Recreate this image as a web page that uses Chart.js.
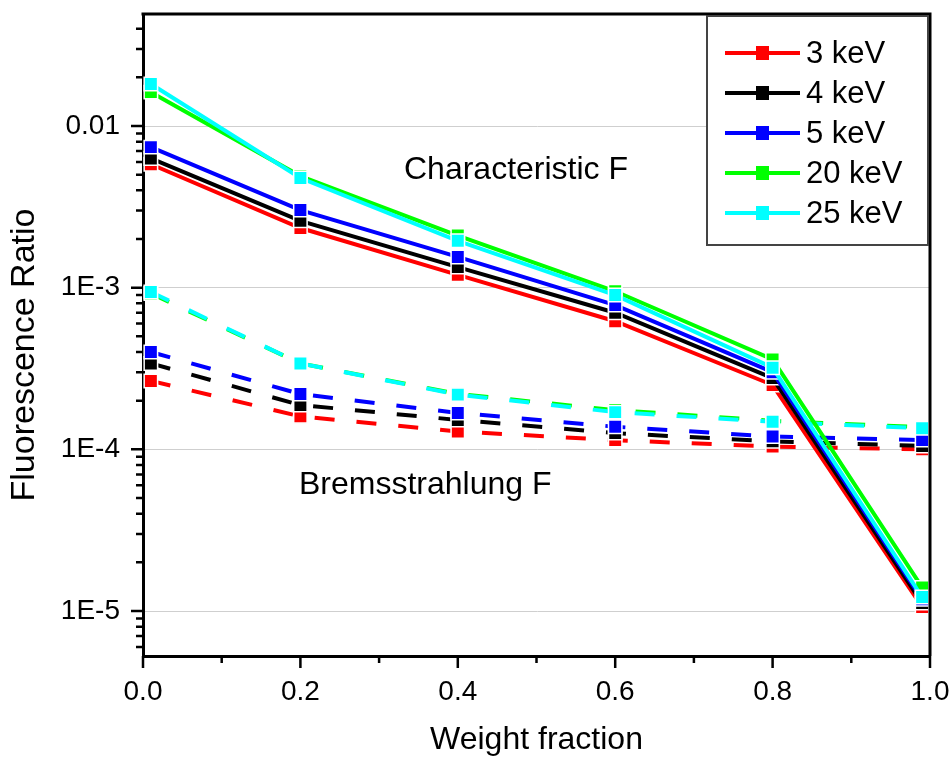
<!DOCTYPE html>
<html>
<head>
<meta charset="utf-8">
<script src="https://cdn.jsdelivr.net/npm/chart.js@4.4.1/dist/chart.umd.min.js"></script>
<style>
	html, body { margin: 0; padding: 0; background: #fff; }
	#wrap { width: 949px; height: 760px; }
</style>
</head>
<body>
<div id="wrap"><canvas id="fluoChart" width="949" height="760"></canvas></div>
<script>
var weightFraction = [0.01, 0.2, 0.4, 0.6, 0.8, 0.99];
var energyLabels = ['3 keV', '4 keV', '5 keV', '20 keV', '25 keV'];
var seriesColors = ['#ff0000', '#000000', '#0000ff', '#00ff00', '#00ffff'];

// Characteristic F (solid lines)
var char3 = [0.0058, 0.00234, 0.0012, 0.00062, 0.00025, 1.06e-5];
var char4 = [0.0063, 0.00259, 0.00134, 0.0007, 0.000276, 1.12e-5];
var char5 = [0.0074, 0.00302, 0.00155, 0.00078, 0.0003, 1.18e-5];
var char20 = [0.0162, 0.0049, 0.0021, 0.00095, 0.00036, 1.4e-5];
var char25 = [0.0182, 0.00477, 0.00195, 0.0009, 0.00032, 1.22e-5];

// Bremsstrahlung F (dashed lines)
var brem3 = [0.000265, 0.00016, 0.000129, 0.000114, 0.000104, 0.0001];
var brem4 = [0.00034, 0.000188, 0.000152, 0.000126, 0.000112, 0.000105];
var brem5 = [0.0004, 0.00022, 0.000168, 0.000138, 0.00012, 0.000114];
var brem20 = [0.00092, 0.00034, 0.00022, 0.000175, 0.00015, 0.000137];
var brem25 = [0.00094, 0.00034, 0.000218, 0.00017, 0.000148, 0.000135];

var yTickValues = [1e-5, 1e-4, 1e-3, 1e-2];
var yTickLabels = ['1E-5', '1E-4', '1E-3', '0.01'];
var xTickValues = [0, 0.2, 0.4, 0.6, 0.8, 1.0];
var xTickLabels = ['0.0', '0.2', '0.4', '0.6', '0.8', '1.0'];

var fontFamily = "'Liberation Sans', Arial, sans-serif";

function toPoints(ys) {
	return weightFraction.map(function (x, i) { return { x: x, y: ys[i] }; });
}

var charSeries = [char3, char4, char5, char20, char25];
var bremSeries = [brem3, brem4, brem5, brem20, brem25];
var datasets = [];

charSeries.forEach(function (ys, i) {
	datasets.push({
		label: energyLabels[i],
		data: toPoints(ys),
		borderColor: seriesColors[i],
		backgroundColor: seriesColors[i],
		borderWidth: 4,
		pointStyle: 'rect',
		pointRadius: 9.5,
		pointBorderColor: '#ffffff',
		pointBorderWidth: 1.5,
		order: 5 - i
	});
});
bremSeries.forEach(function (ys, i) {
	datasets.push({
		label: energyLabels[i] + ' (Bremsstrahlung)',
		data: toPoints(ys),
		borderColor: seriesColors[i],
		backgroundColor: seriesColors[i],
		borderWidth: 4,
		borderDash: [20, 22],
		pointStyle: 'rect',
		pointRadius: 9.5,
		pointBorderColor: '#ffffff',
		pointBorderWidth: 1.5,
		order: 10 - i
	});
});

// frame on top/right plus major and minor tick marks outside the axes
var frameTicks = {
	id: 'frameTicks',
	afterDatasetsDraw: function (chart) {
		var c = chart.ctx, a = chart.chartArea;
		var xs = chart.scales.x, ys = chart.scales.y;
		c.save();
		c.strokeStyle = '#000';
		c.lineWidth = 3;
		c.beginPath();
		c.moveTo(a.left - 1.5, a.top);
		c.lineTo(a.right, a.top);
		c.lineTo(a.right, a.bottom);
		c.stroke();

		c.lineWidth = 2.5;
		c.beginPath();
		yTickValues.forEach(function (v) {
			var py = ys.getPixelForValue(v);
			c.moveTo(a.left - 12, py);
			c.lineTo(a.left, py);
		});
		for (var dec = 1e-6; dec < 1; dec *= 10) {
			for (var m = 2; m <= 9; m++) {
				var v = m * dec;
				if (v < ys.min || v > ys.max) continue;
				var py = ys.getPixelForValue(v);
				c.moveTo(a.left - 7, py);
				c.lineTo(a.left, py);
			}
		}
		xTickValues.forEach(function (v) {
			var px = xs.getPixelForValue(v);
			c.moveTo(px, a.bottom);
			c.lineTo(px, a.bottom + 12);
		});
		for (var k = 0; k < xTickValues.length - 1; k++) {
			var px = xs.getPixelForValue((xTickValues[k] + xTickValues[k + 1]) / 2);
			c.moveTo(px, a.bottom);
			c.lineTo(px, a.bottom + 7);
		}
		c.stroke();
		c.restore();
	}
};

// labels in the plot, y-axis title and the boxed legend
var notesAndLegend = {
	id: 'notesAndLegend',
	afterDraw: function (chart) {
		var c = chart.ctx;
		c.save();
		c.fillStyle = '#000';
		c.textBaseline = 'middle';
		c.textAlign = 'left';
		c.font = '32px ' + fontFamily;
		c.fillText('Characteristic F', 404, 170);
		c.fillText('Bremsstrahlung F', 299, 485);

		c.save();
		c.translate(25, 355);
		c.rotate(-Math.PI / 2);
		c.textAlign = 'center';
		c.font = '34px ' + fontFamily;
		c.fillText('Fluorescence Ratio', 0, 0);
		c.restore();

		// legend box
		c.fillStyle = '#fff';
		c.fillRect(707, 16, 221, 229);
		c.strokeStyle = '#444';
		c.lineWidth = 2;
		c.strokeRect(707, 16, 221, 229);
		c.font = '31px ' + fontFamily;
		for (var i = 0; i < 5; i++) {
			var ds = chart.data.datasets[i];
			var ry = 53 + i * 40;
			c.strokeStyle = ds.borderColor;
			c.lineWidth = 4;
			c.beginPath();
			c.moveTo(725, ry);
			c.lineTo(800, ry);
			c.stroke();
			c.fillStyle = ds.backgroundColor;
			c.fillRect(756, ry - 7, 13, 14);
			c.fillStyle = '#000';
			c.fillText(ds.label, 806, ry + 1);
		}
		c.restore();
	}
};

var chart = new Chart(document.getElementById('fluoChart'), {
	type: 'line',
	data: { datasets: datasets },
	options: {
		responsive: false,
		animation: false,
		layout: { padding: { left: 0, top: 14, right: 19, bottom: 0 } },
		plugins: {
			legend: { display: false },
			tooltip: { enabled: false }
		},
		scales: {
			x: {
				type: 'linear',
				min: 0,
				max: 1,
				afterBuildTicks: function (s) {
					s.ticks = xTickValues.map(function (v) { return { value: v }; });
				},
				afterFit: function (s) {
					s.height = 104;
					s.paddingLeft = 0;
					s.paddingRight = 0;
				},
				grid: { display: false, drawTicks: false },
				border: { display: true, color: '#000', width: 3 },
				ticks: {
					autoSkip: false,
					maxRotation: 0,
					padding: 19,
					color: '#000',
					font: { family: fontFamily, size: 28 },
					callback: function (v, i) { return xTickLabels[i]; }
				},
				title: {
					display: true,
					text: 'Weight fraction',
					color: '#000',
					font: { family: fontFamily, size: 32 },
					padding: { top: 0, bottom: 1 }
				}
			},
			y: {
				type: 'logarithmic',
				min: 5.27e-6,
				max: 0.0493,
				afterBuildTicks: function (s) {
					s.ticks = yTickValues.map(function (v) { return { value: v }; });
				},
				afterFit: function (s) {
					s.width = 143;
					s.paddingTop = 0;
					s.paddingBottom = 0;
				},
				grid: { display: true, drawTicks: false, color: '#cfcfcf', lineWidth: 1 },
				border: { display: true, color: '#000', width: 3 },
				ticks: {
					autoSkip: false,
					padding: 23,
					color: '#000',
					font: { family: fontFamily, size: 28 },
					callback: function (v, i) { return yTickLabels[i]; }
				},
				title: { display: false }
			}
		}
	},
	plugins: [frameTicks, notesAndLegend]
});
</script>
</body>
</html>
